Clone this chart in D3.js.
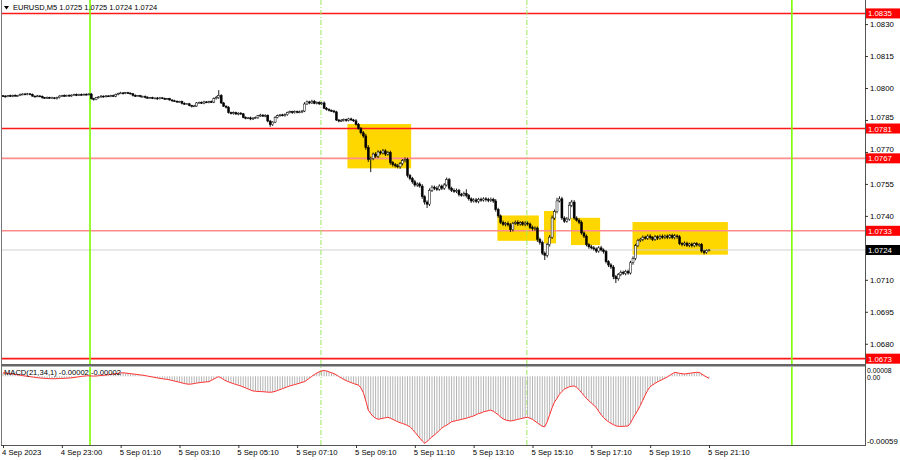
<!DOCTYPE html>
<html><head><meta charset="utf-8">
<script src="https://cdn.jsdelivr.net/npm/d3@7"></script>
<style>
html,body{margin:0;padding:0;background:#fff;}
svg{display:block;font-family:"Liberation Sans",Arial,sans-serif;}
</style></head><body>
<svg id="c" width="900" height="460"></svg>
<script>
// ---------------- DATA ----------------
const symbolTitle = "EURUSD,M5";
const quote = ["1.0725","1.0725","1.0724","1.0724"];
const basePrice = 1.07; // closes are in points (1e-5) above this
const closes = [
962,960,964,962,966,963,965,
970,972,971,973,970,
962,960,963,961,
955,953,956,952,954,951,955,
962,965,963,966,964,
967,969,966,970,968,971,969,972,
950,946,
955,958,962,960,963,961,964,962,
970,975,977,974,978,976,973,
965,962,964,960,961,
956,954,955,952,953,950,954,951,948,950,
944,940,938,935,937,
928,925,926,
918,914,916,
930,933,929,935,932,936,934,
950,955,
965,
930,915,910,
885,880,884,878,882,879,
862,858,860,855,859,861,
870,873,868,872,
845,828,840,
862,870,874,871,875,
885,889,884,890,886,888,892,
925,935,930,938,
928,932,926,930,
905,900,895,892,888,
850,845,848,
852,848,855,850,846,
830,810,790,775,
720,665,
670,690,680,700,695,705,690,698,
650,640,635,630,645,
660,665,
590,575,
560,545,550,540,
490,465,455,
520,535,530,
525,540,530,545,
570,
530,520,515,520,
500,498,505,495,
480,470,475,468,
478,474,480,476,472,478,470,
430,400,
370,360,365,358,
335,
365,370,362,368,360,366,362,
345,340,343,
290,275,
225,215,
265,300,
390,420,
470,480,
390,375,385,
450,465,
390,380,370,
320,305,
265,255,250,
245,235,250,240,232,
185,170,160,
115,105,
125,135,130,140,132,
180,200,
260,285,290,
300,295,305,298,290,302,296,304,299,
305,300,308,298,306,302,
270,265,272,262,268,260,270,264,266,
235,228,238,240
];
const upperWick = [
3,4,3,5,3,4,3,4,3,5,4,3,4,3,5,3,4,
3,4,3,5,3,4,4,3,5,3,4,3,4,5,3,4,3,
4,3,5,4,3,4,5,3,4,3,4,5,4,3,5,4,3,
4,3,4,5,3,4,3,4,5,3,4,3,5,4,3,4,3,
4,3,5,4,3,4,5,3,4,3,5,4,3,4,5,3,4,
5,6,8,25,6,5,4,5,4,6,5,4,5,4,5,4,6,
4,5,4,6,4,5,4,5,4,6,5,4,5,6,4,5,4,
5,4,6,5,8,6,5,7,6,5,6,5,7,6,5,4,6,
5,4,6,5,4,5,6,5,8,6,7,8,10,12,8,7,9,
8,7,9,8,7,8,7,8,9,8,7,9,8,7,8,9,7,
8,9,7,8,9,8,7,9,8,7,9,10,8,7,9,8,7,
8,9,20,8,7,8,9,7,8,7,8,9,8,7,9,8,7,
8,7,9,8,7,8,9,7,8,9,8,7,9,8,7,8,9,
8,9,10,12,10,15,12,9,8,10,15,10,9,8,9,8,7,
8,7,9,8,7,8,9,7,8,7,8,9,8,7,9,8,7,
8,9,10,9,8,7,8,7,8,9,7,8,7,8,9,7,8,
7,8,9,7,8,7,8,7,6,7,6,7,6,7,6,5,4
];
const lowerWick = [
3,4,3,4,5,3,4,3,4,3,5,4,3,4,3,4,5,
3,4,3,4,3,5,4,3,4,3,4,5,3,4,3,4,3,
4,3,4,5,3,4,3,5,4,3,4,3,5,4,3,4,3,
4,3,5,4,3,4,3,5,4,3,4,3,5,4,3,4,3,
4,5,3,4,3,5,4,3,4,5,3,4,3,4,5,3,4,
4,5,4,6,5,4,6,5,4,5,4,6,5,4,5,4,6,
5,4,6,5,4,5,6,10,6,5,4,5,4,6,5,4,5,
4,5,4,6,5,4,6,5,4,5,6,5,4,6,5,4,6,
5,6,4,5,6,5,4,5,6,5,8,9,10,12,60,9,8,
9,8,7,9,8,10,9,8,7,9,8,9,10,8,9,8,9,
8,10,12,18,9,8,9,8,7,9,8,7,9,8,7,8,9,
8,7,9,8,9,7,8,9,8,7,9,8,7,9,10,9,8,
7,9,8,10,8,7,9,8,7,9,8,7,9,10,12,10,9,
22,10,9,8,9,8,7,9,8,7,8,9,8,7,9,8,9,
8,9,7,8,9,8,7,9,8,10,9,12,20,9,8,7,9,
8,7,9,8,7,8,9,7,8,9,8,7,9,8,7,8,9,
8,7,8,9,7,8,7,8,9,8,7,8,9,8,9,6,4
];
// MACD(21,34,1) main value per bar, in units of 1e-5
const macdValues = [
3,2.8,2.5,2.2,2,1.6,1.3,1,0.6,0.3,0,
-0.3,-0.6,-0.9,-1.2,-1.4,-1.6,-1.8,-1.9,-2,-2.1,-2.1,-2,
-1.9,-1.8,-1.7,-1.6,-1.5,-1.3,-1,-0.7,-0.4,-0.1,0.2,0.4,0.5,
0.3,0.2,0.3,0.5,0.7,0.9,1.1,1.4,1.7,2,2.3,2.6,2.9,
3,2.8,2.5,2.3,2,1.8,1.5,1.2,1,
0.6,0.2,-0.2,-0.6,-1,-1.4,-1.8,-2.1,-2.4,-2.6,
-3.1,-3.6,-4.1,-4.6,-5.1,-5.7,-6.2,-6.6,
-6.8,-6.6,-6.2,-5.8,-5.5,-5.2,-5,-4.8,-4.6,
-3.5,-2.4,-1.2,-0.3,
-1.5,-2.8,-3.9,-4.8,-5.6,-6.3,-7,-7.7,-8.3,
-9.2,-10,-10.9,-11.8,-12.6,
-12.8,-13,-13.1,-13.2,-13.4,-13.6,-13.7,
-13.5,-12.9,-12.2,-11.4,-10.6,-9.8,-9,-8.3,
-7.7,-7.1,-6.5,-5.9,-5.2,-4.6,
-3.2,-1.6,0,1.5,2.8,3.8,4.6,5,
4.6,3.8,3,2.4,
1.2,-0.2,-1.5,-2.6,-3.7,-4.6,
-5.4,-6.2,-6.9,-7.5,
-10,-14,-21,-29,
-32,-34.5,-36,-36.9,
-36.5,-36,-35.6,-35.2,
-36,-37,-38,-39,-39.9,
-40.5,-41.3,-42.3,-43.3,
-45.5,-48,-50.5,-53,-55.5,-57.5,
-56,-54,-52,-50.4,
-48.5,-46.5,-44.5,-43,-42,-40.5,-39,
-38.5,-38,-37.5,-37,-36.5,-36,-35.3,-34.7,
-34,-33,-32,-31.5,-30.5,-30,-29.5,-29,
-30,-31.5,-33,-35,-36.5,-37.5,-38,-38.4,
-38,-37.5,-37,-36.5,-36,-35.5,-35.2,
-36,-37,-38.5,-40,-41.5,-43,-43.3,
-39,-33,-27,-22,-18.9,
-15.5,-13,-11,-10,-9,-8.5,-8.3,
-9.5,-11.5,-14,-16.5,-19,-21,-23,-24.7,
-27,-30,-33,-35.5,-37.5,-39,-40.4,
-41.5,-42.5,-43,-43,-43,-42.8,-42.7,
-40,-36,-32.5,-29,
-25,-20.5,-16,-12,-8.9,
-7.5,-6,-4.8,-3.7,-2.7,-1.7,
-0.5,0.8,2.2,3.4,
3,2.6,2.3,2,
2.3,2.6,2.9,3.2,3.4,3.4,
2,0.6,-0.6,-1.7
];
const macdTitle = "MACD(21,34,1) -0.00002 -0.00002";
const macdRange = [-0.00059, 0.00008];
const macdAxisLabels = ["0.00008","0.00","-0.00059"];

const timeTickIndex = [0,24,48,72,96,120,144,168,192,216,240,264,288];
const timeTickLabels = ["4 Sep 2023","4 Sep 23:00","5 Sep 01:10","5 Sep 03:10","5 Sep 05:10","5 Sep 07:10","5 Sep 09:10","5 Sep 11:10","5 Sep 13:10","5 Sep 15:10","5 Sep 17:10","5 Sep 19:10","5 Sep 21:10"];
const priceTicks = [1.0830,1.0815,1.0800,1.0785,1.0770,1.0755,1.0740,1.0710,1.0695,1.0680];
const priceRange = [1.06705, 1.08413];

const levelPrices = [1.0835,1.0781,1.0767,1.0733,1.0673];
const levelLabels = ["1.0835","1.0781","1.0767","1.0733","1.0673"];
const bidPrice = 1.0724;
const bidLabel = "1.0724";

// vertical markers, in bar-index units
const solidMarkers = [35.5, 321.8];
const dashMarkers = [129.7, 213.7];

// yellow zones: bar-index span and price span
const zoneStart = [140.5,201.7,220.7,231.7,256.8];
const zoneEnd   = [166.5,218.6,225.6,243.6,295.7];
const zoneHigh  = [1.07831,1.07402,1.07423,1.07391,1.07371];
const zoneLow   = [1.07623,1.07283,1.07271,1.07263,1.07218];

// ---------------- LAYOUT ----------------
const L = 2, R = 865, mainTop = 0, mainBottom = 364, macdTop = 367, macdBottom = 445;
const svg = d3.select("#c");
const x = d3.scaleLinear().domain([0, 288]).range([3, 709]);
const y = d3.scaleLinear().domain(priceRange).range([mainBottom, mainTop]);
const ym = d3.scaleLinear().domain(macdRange).range([macdBottom, macdTop]);

const defs = svg.append("defs");
defs.append("clipPath").attr("id","clipMain").append("rect")
  .attr("x",L).attr("y",mainTop).attr("width",R-L).attr("height",mainBottom-mainTop);
defs.append("clipPath").attr("id","clipMacd").append("rect")
  .attr("x",L).attr("y",macdTop).attr("width",R-L).attr("height",macdBottom-macdTop);

const gMain = svg.append("g").attr("clip-path","url(#clipMain)");
const gMacd = svg.append("g").attr("clip-path","url(#clipMacd)");

// zones
gMain.selectAll("rect.zone").data(zoneStart).join("rect").attr("class","zone")
  .attr("x",(d,i)=>x(d)).attr("width",(d,i)=>x(zoneEnd[i])-x(d))
  .attr("y",(d,i)=>y(zoneHigh[i])).attr("height",(d,i)=>y(zoneLow[i])-y(zoneHigh[i]))
  .attr("fill","#ffd700");

// bid line
gMain.append("line").attr("x1",L).attr("x2",R).attr("y1",y(bidPrice)).attr("y2",y(bidPrice))
  .attr("stroke","#d0d0d0").attr("stroke-width",1);

// level lines
const strong = new Set([1.0835,1.0781,1.0673]);
gMain.selectAll("line.level").data(levelPrices).join("line").attr("class","level")
  .attr("x1",L).attr("x2",R).attr("y1",d=>y(d)).attr("y2",d=>y(d))
  .attr("stroke",d=>strong.has(d)?"#ff1a1a":"#ff8c8c").attr("stroke-width",1.6);

// vertical markers (both panels)
[gMain,gMacd].forEach(g=>{
  g.selectAll("line.vs").data(solidMarkers).join("line").attr("class","vs")
    .attr("x1",d=>x(d)).attr("x2",d=>x(d)).attr("y1",0).attr("y2",macdBottom)
    .attr("stroke","#7cfc00").attr("stroke-width",1.6);
  g.selectAll("line.vd").data(dashMarkers).join("line").attr("class","vd")
    .attr("x1",d=>x(d)).attr("x2",d=>x(d)).attr("y1",0).attr("y2",macdBottom)
    .attr("stroke","#9be85a").attr("stroke-width",1).attr("stroke-dasharray","5,2,1,2");
});

// candles
const bars = closes.map((c,i)=>{
  const close = basePrice + c/1e5;
  const open = i ? basePrice + closes[i-1]/1e5 : close + 0.00002;
  const high = Math.max(open,close) + upperWick[i]/1e5;
  const low = Math.min(open,close) - lowerWick[i]/1e5;
  return {i, open, close, high, low};
});
const cg = gMain.append("g");
cg.selectAll("line.wick").data(bars).join("line").attr("class","wick")
  .attr("x1",d=>x(d.i)).attr("x2",d=>x(d.i)).attr("y1",d=>y(d.high)).attr("y2",d=>y(d.low))
  .attr("stroke","#000").attr("stroke-width",0.9);
cg.selectAll("rect.body").data(bars).join("rect").attr("class","body")
  .attr("x",d=>x(d.i)-1).attr("width",2)
  .attr("y",d=>y(Math.max(d.open,d.close)))
  .attr("height",d=>Math.max(0.9, Math.abs(y(d.open)-y(d.close))))
  .attr("fill",d=>d.close>=d.open?"#ffffff":"#000000")
  .attr("stroke","#000").attr("stroke-width",0.5);

// MACD histogram + line
const mv = macdValues.map((v,i)=>({i, v: v/1e5}));
gMacd.selectAll("line.hist").data(mv).join("line").attr("class","hist")
  .attr("x1",d=>x(d.i)).attr("x2",d=>x(d.i)).attr("y1",ym(0)).attr("y2",d=>ym(d.v))
  .attr("stroke","#b4b4b4").attr("stroke-width",1);
gMacd.append("path").datum(mv)
  .attr("d", d3.line().x(d=>x(d.i)).y(d=>ym(d.v)).curve(d3.curveLinear))
  .attr("fill","none").attr("stroke","#ff3030").attr("stroke-width",1);

// MACD title
svg.append("text").attr("x",4).attr("y",375).attr("font-size",7.6).attr("fill","#000")
  .text(macdTitle);

// frame
svg.append("line").attr("x1",1.5).attr("x2",1.5).attr("y1",0).attr("y2",macdBottom+1)
  .attr("stroke","#777").attr("stroke-width",1);
svg.append("line").attr("x1",R+0.5).attr("x2",R+0.5).attr("y1",0).attr("y2",macdBottom+1)
  .attr("stroke","#555").attr("stroke-width",1);
svg.append("rect").attr("x",1).attr("y",mainBottom).attr("width",R-0.5).attr("height",2.5)
  .attr("fill","#666");
svg.append("line").attr("x1",1).attr("x2",R+1).attr("y1",macdBottom+0.5).attr("y2",macdBottom+0.5)
  .attr("stroke","#555").attr("stroke-width",1);

// price axis (right)
const ay = svg.append("g").attr("transform",`translate(${R},0)`)
  .call(d3.axisRight(y).tickValues(priceTicks).tickFormat(d3.format(".4f")).tickSize(3).tickPadding(2));
ay.select(".domain").remove();
ay.selectAll("text").attr("font-size",7.8).attr("fill","#000").attr("font-family","Liberation Sans, Arial, sans-serif");
ay.selectAll("line").attr("stroke","#333");
// nudge a tick label that sits right against a level label box
ay.selectAll(".tick").filter(d=>levelPrices.some(p=>Math.abs(y(p)-y(d))<9 && Math.abs(y(p)-y(d))>0.5))
  .select("text").attr("dy","-0.05em");

// level labels
const lb = svg.append("g");
levelPrices.forEach((p,i)=>{
  lb.append("rect").attr("x",R+1).attr("y",y(p)-5).attr("width",34).attr("height",10).attr("fill","#ff0000");
  lb.append("text").attr("x",R+3).attr("y",y(p)+3).attr("font-size",7.8).attr("fill","#fff").text(levelLabels[i]);
});
lb.append("rect").attr("x",R+1).attr("y",y(bidPrice)-5).attr("width",34).attr("height",10).attr("fill","#000");
lb.append("text").attr("x",R+3).attr("y",y(bidPrice)+3).attr("font-size",7.8).attr("fill","#fff").text(bidLabel);

// macd axis labels
const macdLabelPos = [ym(macdRange[1])+5.5, ym(0)+3.5, ym(macdRange[0])-1.5];
const macdLabelSize = [6.8, 6.8, 7.8];
macdAxisLabels.forEach((t,i)=>{
  svg.append("text").attr("x",R+2).attr("y",macdLabelPos[i]).attr("font-size",macdLabelSize[i]).attr("fill","#000").text(t);
});

// time axis
const ax = svg.append("g").attr("transform",`translate(0,${macdBottom})`)
  .call(d3.axisBottom(x).tickValues(timeTickIndex).tickFormat((d,i)=>timeTickLabels[i]).tickSize(3).tickPadding(2));
ax.select(".domain").remove();
ax.selectAll("line").attr("stroke","#333");
ax.selectAll("text").attr("text-anchor","start").attr("dx",-1.5).attr("font-size",7.7)
  .attr("fill","#000").attr("font-family","Liberation Sans, Arial, sans-serif");

// title
svg.append("path").attr("d","M4,6 L9,6 L6.5,9.5 Z").attr("fill","#000");
svg.append("text").attr("x",13).attr("y",10).attr("font-size",7.5).attr("fill","#000")
  .text(symbolTitle + "  " + quote.join(" "));
</script>
</body></html>
